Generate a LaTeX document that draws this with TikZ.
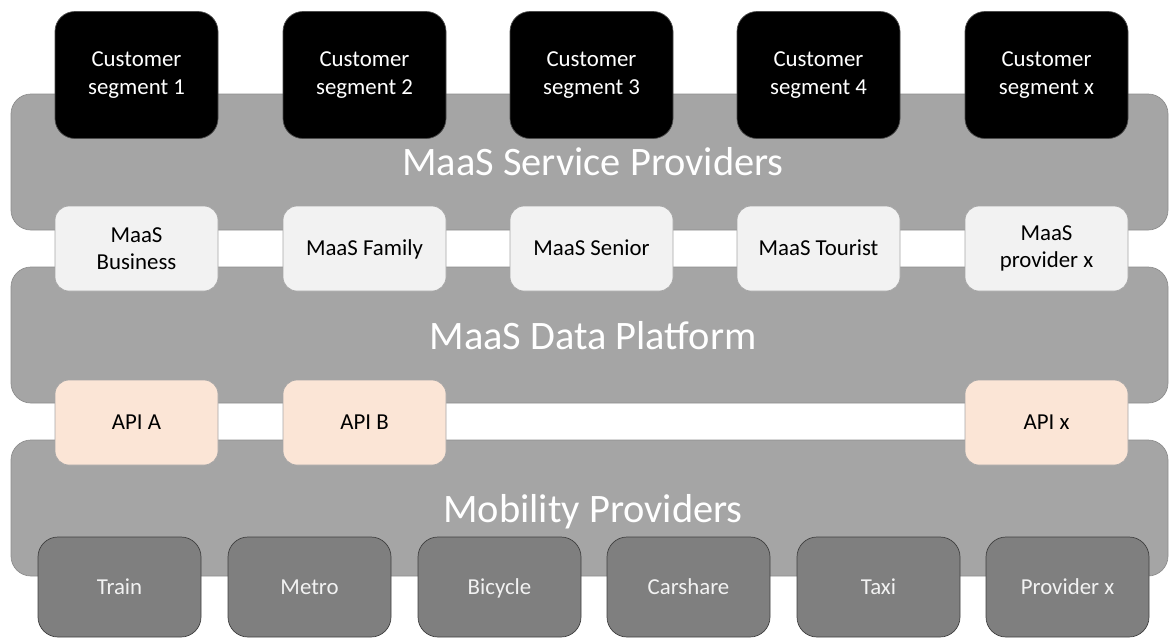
\documentclass[tikz,border=0pt]{standalone}
\usepackage{fontspec}
\setmainfont{Carlito}
\usepackage{tikz}
\usetikzlibrary{calc}

\definecolor{bandgray}{HTML}{A5A5A5}
\definecolor{bandline}{HTML}{8E8E8E}
\definecolor{lightbox}{HTML}{F2F2F2}
\definecolor{peach}{HTML}{FBE5D6}
\definecolor{darkbox}{HTML}{7F7F7F}

\begin{document}
\begin{tikzpicture}[x=0.02cm,y=-0.02cm,
    band/.style={draw=bandline,fill=bandgray,rounded corners=20*0.02cm,minimum width=1157*0.02cm,minimum height=136*0.02cm,inner sep=0pt},
    bandtitle/.style={anchor=base,text=white,font=\fontsize{23}{27}\selectfont},
    oneline/.style={text height=0.8em,text depth=0em},
    custbox/.style={draw=black!70,fill=black,rounded corners=20*0.02cm,minimum width=163*0.02cm,minimum height=127*0.02cm,text=white,align=center,font=\fontsize{13}{15.5}\selectfont},
    maasbox/.style={draw=black!35,fill=lightbox,rounded corners=14*0.02cm,minimum width=163*0.02cm,minimum height=85*0.02cm,align=center,font=\fontsize{13}{15.5}\selectfont},
    apibox/.style={draw=black!35,fill=peach,rounded corners=14*0.02cm,minimum width=163*0.02cm,minimum height=85*0.02cm,oneline,font=\fontsize{13}{15.5}\selectfont},
    modebox/.style={draw=black!75,fill=darkbox,rounded corners=20*0.02cm,minimum width=163*0.02cm,minimum height=100*0.02cm,oneline,text=lightbox,font=\fontsize{13}{15.5}\selectfont}]

\useasboundingbox (0,0) rectangle (1169,637);

% layers
\node[band] (service) at (589.5,162) {};
\node[band] (data) at (589.5,335) {};
\node[band] (mobility) at (589.5,508) {};

\node[bandtitle] (servicetitle) at (593,175) {MaaS Service Providers};
\node[bandtitle] (datatitle) at (593,349) {MaaS Data Platform};
\node[bandtitle] (mobilitytitle) at (593,522) {Mobility Providers};

% customer segments
\node[custbox] (c1) at (136.5,75) {Customer\\segment 1};
\node[custbox] (c2) at (364.5,75) {Customer\\segment 2};
\node[custbox] (c3) at (591.5,75) {Customer\\segment 3};
\node[custbox] (c4) at (818.5,75) {Customer\\segment 4};
\node[custbox] (cx) at (1046.5,75) {Customer\\segment x};

% service providers
\node[maasbox] (m1) at (136.5,248.5) {MaaS\\Business};
\node[maasbox,oneline] (m2) at (364.5,248.5) {MaaS Family};
\node[maasbox,oneline] (m3) at (591.5,248.5) {MaaS Senior};
\node[maasbox,oneline] (m4) at (818.5,248.5) {MaaS Tourist};
\node[maasbox] (mx) at (1046.5,248.5) {MaaS\\provider x};

% interfaces
\node[apibox] (apia) at (136.5,422.5) {API A};
\node[apibox] (apib) at (364.5,422.5) {API B};
\node[apibox] (apix) at (1046.5,422.5) {API x};

% mobility providers
\node[modebox] (train) at (119.5,587) {Train};
\node[modebox] (metro) at (309.5,587) {Metro};
\node[modebox] (bicycle) at (499.5,587) {Bicycle};
\node[modebox] (carshare) at (688.5,587) {Carshare};
\node[modebox] (taxi) at (878.5,587) {Taxi};
\node[modebox] (provx) at (1067.5,587) {Provider x};

\end{tikzpicture}
\end{document}
